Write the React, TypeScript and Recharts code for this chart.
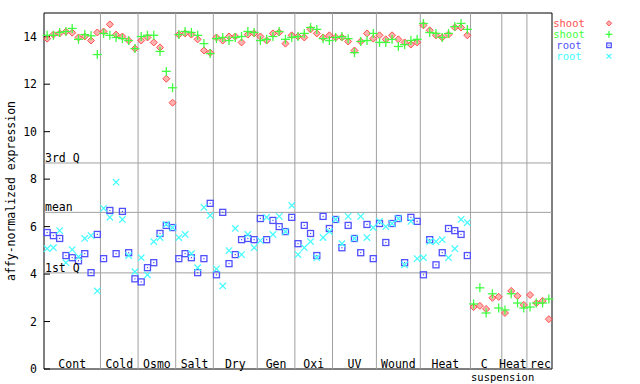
import { ReferenceArea, ReferenceLine, Scatter, ScatterChart, XAxis, YAxis } from "recharts";

// Expression scatter, one column per sample; grey rules split the treatment groups.
const FONT = "'DejaVu Sans Mono', 'Liberation Mono', monospace";
const FS = 11.5;

const categoryNames = ["Cont", "Cold", "Osmo", "Salt", "Dry", "Gen", "Oxi", "UV", "Wound", "Heat", "C", "Heat", "rec"];
const categorySizes = [9, 6, 6, 6, 7, 6, 6, 7, 7, 8, 5, 4, 4];

const shootRep1 = [
  13.92, 14.09, 14.14, 14.21, 14.17, 13.97, 14.01, 13.84, 14.18,
  14.22, 14.52, 14.09, 14.01, 13.84, 13.5,
  13.84, 13.97, 13.76, 13.55, 12.23, 11.22,
  14.09, 14.14, 14.09, 13.89, 13.42, 13.33,
  13.97, 13.84, 14.01, 14.01, 13.76, 14.09, 14.14,
  14.01, 13.84, 14.14, 14.18, 13.71, 14.06,
  14.01, 13.97, 14.31, 14.14, 13.97, 14.06,
  13.97, 13.97, 13.8, 13.42, 13.8, 14.14, 13.92,
  14.06, 13.89, 14.06, 13.89, 13.76, 13.67, 13.76,
  14.48, 14.27, 14.06, 13.97, 14.09, 14.39, 14.39, 14.06,
  2.61, 2.66, 2.53, 3.0, 3.04,
  2.36, 3.29, 3.08, 2.7,
  3.12, 2.78, 2.87, 2.1,
];
const shootRep2 = [
  14.06, 14.06, 14.18, 14.22, 14.35, 13.89, 14.09, 14.04, 13.25,
  14.14, 14.06, 13.97, 13.92, 13.84, 13.5,
  14.01, 14.06, 14.06, 13.38, 12.54, 11.85,
  14.09, 14.22, 14.18, 14.06, 13.71, 13.29,
  13.92, 13.97, 13.84, 13.97, 14.01, 14.22, 14.18,
  13.84, 13.89, 14.01, 14.22, 13.89, 13.97,
  14.01, 14.14, 14.39, 14.31, 13.92, 13.84,
  13.97, 14.01, 13.92, 13.33, 13.8, 13.84, 14.14,
  13.76, 13.76, 13.89, 13.59, 13.67, 13.84, 13.89,
  14.56, 14.18, 14.14, 13.97, 14.14, 14.43, 14.56, 14.31,
  2.74, 3.42, 2.36, 3.17, 2.57,
  2.49, 3.17, 2.78, 2.57,
  2.61, 2.78, 2.78, 2.95,
];
const rootRep1 = [
  5.75, 5.62, 5.5, 4.78, 4.69, 4.56, 4.86, 4.06, 5.67,
  4.65, 6.68, 4.86, 6.64, 4.9, 3.8,
  3.67, 4.27, 4.48, 5.71, 6.05, 5.96,
  4.65, 4.86, 4.69, 4.06, 4.65, 6.98,
  3.97, 6.6, 4.44, 4.82, 5.45, 5.5, 5.45,
  6.34, 5.45, 6.26, 6.0, 5.79, 6.39,
  5.28, 6.05, 5.71, 4.78, 6.43, 5.92,
  6.3, 5.11, 6.05, 5.5, 4.9, 6.09, 4.65,
  6.13, 5.33, 6.13, 6.34, 4.48, 6.39, 6.22,
  3.97, 5.45, 4.39, 4.9, 5.92, 5.83, 5.67, 4.78,
];
const rootRep2 = [
  5.07, 5.11, 5.83, 4.48, 5.03, 4.73, 5.5, 5.62, 3.29,
  6.77, 6.39, 7.87, 6.3, 4.78, 4.1,
  4.69, 3.97, 5.37, 5.54, 6.09, 5.96,
  5.54, 5.67, 4.86, 4.27, 6.81, 6.47,
  4.22, 3.5, 4.99, 5.92, 4.82, 5.67, 5.11,
  5.41, 6.39, 5.67, 6.43, 5.79, 6.89,
  4.82, 5.11, 5.37, 4.69, 5.54, 5.79,
  6.3, 5.28, 6.43, 5.5, 6.43, 5.54, 5.96,
  6.22, 6.0, 6.13, 6.34, 4.39, 6.22, 4.65,
  4.69, 5.37, 5.37, 5.45, 4.69, 5.07, 6.3, 6.17,
];

const yTicks = [0, 2, 4, 6, 8, 10, 12, 14];
const quartileLabels = ["3rd Q", "mean", "1st Q"];
const quartileValues = [8.68, 6.6, 4.05];

const RED = "#ff5050";
const GREEN = "#40ff40";
const BLUE = "#5050ff";
const CYAN = "#40ffff";
const GRID = "#a0a0a0";

const total = categorySizes.reduce((a, b) => a + b, 0);
const starts = categorySizes.map((_, i) => categorySizes.slice(0, i).reduce((a, b) => a + b, 0));
const centers = starts.map((s, i) => s + (categorySizes[i] + 1) / 2);
const dividers = starts.slice(1).map((s) => s + 0.5);

const toPoints = (vals: number[]) => vals.map((y, i) => ({ x: i + 1, y }));

type P = { cx?: number; cy?: number; s?: number };

const Diamond = ({ cx = 0, cy = 0, s = 1 }: P) => {
  const r = 3.5 * s;
  return (
    <polygon
      points={`${cx},${cy - r} ${cx + r},${cy} ${cx},${cy + r} ${cx - r},${cy}`}
      fill={RED}
      fillOpacity={0.45}
      stroke={RED}
      strokeWidth={1}
    />
  );
};

const Plus = ({ cx = 0, cy = 0, s = 1 }: P) => {
  const r = 4.5 * s;
  return (
    <g stroke={GREEN} strokeWidth={1.3}>
      <line x1={cx - r} y1={cy} x2={cx + r} y2={cy} />
      <line x1={cx} y1={cy - r} x2={cx} y2={cy + r} />
    </g>
  );
};

const Square = ({ cx = 0, cy = 0, s = 1 }: P) => {
  const r = 3 * s;
  return (
    <g>
      <rect x={cx - r} y={cy - r} width={2 * r} height={2 * r} fill="none" stroke={BLUE} strokeWidth={1.3} />
      <rect x={cx - 0.6} y={cy - 0.6} width={1.2} height={1.2} fill={BLUE} />
    </g>
  );
};

const Cross = ({ cx = 0, cy = 0, s = 1 }: P) => {
  const r = 3.2 * s;
  return (
    <g stroke={CYAN} strokeWidth={1.2}>
      <line x1={cx - r} y1={cy - r} x2={cx + r} y2={cy + r} />
      <line x1={cx - r} y1={cy + r} x2={cx + r} y2={cy - r} />
    </g>
  );
};

const series = [
  { name: "shoot", color: RED, data: shootRep1, Mark: Diamond },
  { name: "shoot", color: GREEN, data: shootRep2, Mark: Plus },
  { name: "root", color: BLUE, data: rootRep1, Mark: Square },
  { name: "root", color: CYAN, data: rootRep2, Mark: Cross },
];

// the last two group labels sit tight together, nudge them apart a little
const tickNudge: Record<number, number> = { 10: -2, 11: -1.5, 12: 1 };

const CategoryTick = (props: any) => {
  const { x, y, index } = props;
  const name = categoryNames[index];
  const dx = tickNudge[index] ?? 0;
  return (
    <g>
      <text x={x + dx} y={y - 1.5} textAnchor="middle" fontFamily={FONT} fontSize={FS} fill="#000">
        {name}
      </text>
      {name === "C" && (
        <text x={x + 16.5} y={y + 11.5} textAnchor="middle" fontFamily={FONT} fontSize={10.5} fill="#000">
          suspension
        </text>
      )}
    </g>
  );
};

export default function App() {
  return (
    <div style={{ position: "fixed", left: 0, top: 0, width: 640, height: 384, background: "#fff" }}>
      <ScatterChart width={640} height={384} margin={{ top: 13, right: 87, bottom: 0, left: 0 }}>
        <XAxis
          type="number"
          dataKey="x"
          domain={[0.5, total + 0.5]}
          ticks={centers}
          interval={0}
          height={15}
          axisLine={false}
          tickLine={false}
          tickSize={0}
          tickMargin={0}
          tick={CategoryTick}
        />
        <YAxis
          type="number"
          dataKey="y"
          domain={[0, 15]}
          ticks={yTicks}
          interval={0}
          width={44}
          axisLine={false}
          tickSize={-6}
          tickMargin={13}
          tickLine={{ stroke: "#000" }}
          tick={{ fill: "#000", fontFamily: FONT, fontSize: FS }}
        />
        <YAxis
          yAxisId="r"
          orientation="right"
          type="number"
          domain={[0, 15]}
          ticks={yTicks}
          interval={0}
          width={1}
          axisLine={false}
          tickSize={-4}
          tickLine={{ stroke: "#000" }}
          tickFormatter={() => ""}
        />
        {dividers.map((d) => (
          <ReferenceLine key={d} x={d} stroke={GRID} strokeWidth={1} />
        ))}
        {quartileValues.map((v, i) => (
          <ReferenceLine
            key={quartileLabels[i]}
            y={v}
            stroke={GRID}
            strokeWidth={1}
            label={{
              value: quartileLabels[i],
              position: "insideBottomLeft",
              offset: 1,
              fill: "#000",
              fontFamily: FONT,
              fontSize: FS,
            }}
          />
        ))}
        <ReferenceArea x1={0.5} x2={total + 0.5} y1={0} y2={15} fill="none" stroke="#000" strokeWidth={1} />
        {series.map((s, i) => (
          <Scatter
            key={i}
            name={s.name}
            data={toPoints(s.data)}
            shape={(p: any) => <s.Mark cx={p.cx} cy={p.cy} />}
            isAnimationActive={false}
          />
        ))}
      </ScatterChart>
      <svg width={640} height={384} style={{ position: "absolute", left: 0, top: 0, pointerEvents: "none" }}>
        <text
          x={15}
          y={191}
          transform="rotate(-90 15 191)"
          textAnchor="middle"
          fontFamily={FONT}
          fontSize={FS}
          fill="#000"
        >
          affy-normalized expression
        </text>
        {series.map((s, i) => (
          <g key={i}>
            <text x={569} y={27 + i * 11} textAnchor="middle" fontFamily={FONT} fontSize={10.5} fill={s.color}>
              {s.name}
            </text>
            <s.Mark cx={609} cy={23.3 + i * 11} s={0.75} />
          </g>
        ))}
      </svg>
    </div>
  );
}
